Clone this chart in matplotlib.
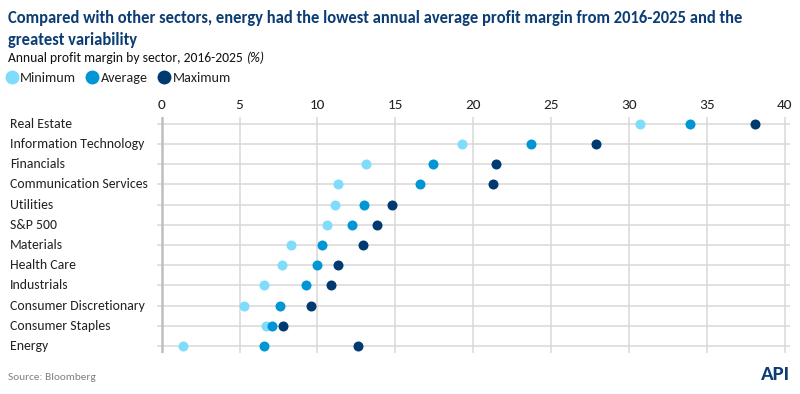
import numpy as np
import matplotlib
matplotlib.use('Agg')
import matplotlib.pyplot as plt
from matplotlib.lines import Line2D

plt.rcParams['font.family'] = ['Carlito', 'DejaVu Sans']

# ── data ──────────────────────────────────────────────────
sectors = ["Real Estate", "Information Technology", "Financials",
           "Communication Services", "Utilities", "S&P 500", "Materials",
           "Health Care", "Industrials", "Consumer Discretionary",
           "Consumer Staples", "Energy"]
minimum = [30.7, 19.3, 13.1, 11.3, 11.1, 10.6, 8.3, 7.7, 6.6, 5.3, 6.7, 1.4]
average = [33.9, 23.7, 17.4, 16.6, 13.0, 12.2, 10.3, 10.0, 9.3, 7.6, 7.1, 6.6]
maximum = [38.1, 27.9, 21.5, 21.3, 14.8, 13.8, 12.9, 11.3, 10.9, 9.6, 7.8, 12.6]
xticks = [0, 5, 10, 15, 20, 25, 30, 35, 40]

C_MIN = '#7fdcfb'
C_AVG = '#0096d6'
C_MAX = '#003a70'
NAVY  = '#0b3c74'

W, H = 800, 394
fig = plt.figure(figsize=(W / 100, H / 100), dpi=100)
renderer = fig.canvas.get_renderer()


def fit(t, width_px):
    # scale a text so it spans the width measured on the reference
    w = t.get_window_extent(renderer).width
    t.set_fontsize(t.get_fontsize() * width_px / w)
    return t


ax = fig.add_axes([157 / W, 1 - 353 / H, 633 / W, (353 - 116.7) / H])

y = np.arange(len(sectors))
ax.scatter(minimum, y, s=52, color=C_MIN, zorder=3, linewidths=0)
ax.scatter(average, y, s=52, color=C_AVG, zorder=4, linewidths=0)
ax.scatter(maximum, y, s=52, color=C_MAX, zorder=5, linewidths=0)

ax.set_xlim(-0.3, 40.35)
ax.set_ylim(len(sectors) - 1 + 0.35, -0.35)

# grid
for yy in y:
    ax.axhline(yy, color='#d9d9d9', lw=1.1, zorder=1)
for xx in xticks:
    ax.axvline(xx, color='#bfbfbf' if xx == 0 else '#d9d9d9',
               lw=1.8 if xx == 0 else 1.1, zorder=1)

ax.set_xticks(xticks)
ax.xaxis.tick_top()
ax.tick_params(axis='x', length=0, pad=4, labelsize=11, labelcolor='#222222')
ax.set_yticks([])
for sp in ax.spines.values():
    sp.set_visible(False)

# y labels, left aligned at the figure edge
lab = []
for yy, name in zip(y, sectors):
    fy = 1 - (123.7 + yy * 20.21) / H
    lab.append(fig.text(10 / W, fy, name, ha='left', va='center',
                        fontsize=11, color='#222222'))
fit(lab[3], 138)
for t in lab:
    t.set_fontsize(lab[3].get_fontsize())

# titles
t1 = fig.text(8 / W, 1 - 18 / H,
              "Compared with other sectors, energy had the lowest annual average profit margin from 2016-2025 and the",
              ha='left', va='center', fontsize=13, fontweight='bold', color=NAVY)
fit(t1, 733)
fig.text(8 / W, 1 - 40 / H, "greatest variability",
         ha='left', va='center', fontsize=t1.get_fontsize(), fontweight='bold', color=NAVY)
st = fig.text(8 / W, 1 - 58 / H, "Annual profit margin by sector, 2016-2025",
              ha='left', va='center', fontsize=10.5, color='#111111')
fit(st, 236)
sx = (st.get_window_extent(renderer).x1 + 4) / W
fig.text(sx, 1 - 58 / H, "(%)", ha='left', va='center',
         fontsize=st.get_fontsize(), style='italic', color='#111111')

handles = [Line2D([], [], marker='o', ls='', markersize=9, color=c, label=l)
           for c, l in [(C_MIN, 'Minimum'), (C_AVG, 'Average'), (C_MAX, 'Maximum')]]
fig.legend(handles=handles, loc='center left', bbox_to_anchor=(1 / W, 1 - 78 / H),
           ncol=3, frameon=False, handletextpad=0.05, columnspacing=0.6,
           handlelength=1.1, fontsize=st.get_fontsize() * 1.03, labelcolor='#222222',
           borderaxespad=0, borderpad=0.2)

src = fig.text(8 / W, 1 - 378 / H, "Source: Bloomberg", ha='left', va='center',
               fontsize=9, color='#808080')
fit(src, 88)
fig.text(790 / W, 1 - 374 / H, "API", ha='right', va='center',
         fontsize=15, fontweight='black', color=NAVY)

fig.savefig('out.png', dpi=100)
